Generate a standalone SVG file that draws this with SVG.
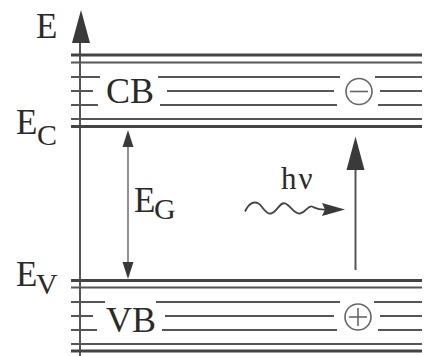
<svg xmlns="http://www.w3.org/2000/svg" width="424" height="356" viewBox="0 0 424 356">
<style>
.t{font-family:"Liberation Serif","Times New Roman",serif;fill:#2a2a2a;font-size:35px}
.s{font-size:30px}
.b{font-size:36px}
.edge{stroke:#444;stroke-width:2.8;fill:none}
.lvl{stroke:#555;stroke-width:2;fill:none}
.ax{stroke:#555;stroke-width:2;fill:none}
.thin{stroke:#555;stroke-width:1.3;fill:none}
.wave{stroke:#444;stroke-width:1.8;fill:none}
.head{fill:#3a3a3a}
.car{stroke:#666;stroke-width:1.6;fill:none}
</style>
<rect width="424" height="356" fill="#fff"/>
<g id="axis">
<line class="ax" x1="80" y1="40" x2="80" y2="356"/>
<polygon class="head" points="81,10 90,43 72,43"/>
<text class="t" x="36" y="38">E</text>
</g>
<g id="conduction-band">
<line class="edge" x1="71" y1="55" x2="422" y2="55"/>
<line class="lvl" x1="71" y1="62.5" x2="422" y2="62.5"/>
<path class="lvl" d="M71,77H100M158,77H340M375,77H422"/>
<path class="lvl" d="M71,91H93M167,91H334M380,91H422"/>
<path class="lvl" d="M71,105H98M160,105H337M378,105H422"/>
<line class="lvl" x1="71" y1="119" x2="422" y2="119"/>
<line class="edge" x1="71" y1="126.5" x2="422" y2="126.5"/>
<text class="t b" x="106" y="102.5">CB</text>
<g id="electron">
<circle class="car" cx="359" cy="91.5" r="13"/>
<line class="car" x1="350" y1="91.5" x2="368" y2="91.5"/>
</g>
</g>
<g id="valence-band">
<line class="edge" x1="71" y1="280.5" x2="422" y2="280.5"/>
<line class="lvl" x1="71" y1="287.5" x2="422" y2="287.5"/>
<path class="lvl" d="M71,302H105M156,302H340M374,302H422"/>
<path class="lvl" d="M71,316H93M165,316H334M380,316H422"/>
<path class="lvl" d="M71,330H97M162,330H337M378,330H422"/>
<line class="lvl" x1="71" y1="344" x2="422" y2="344"/>
<line class="edge" x1="71" y1="351" x2="422" y2="351"/>
<text class="t b" x="106" y="331.5">VB</text>
<g id="hole">
<circle class="car" cx="358" cy="317" r="13"/>
<line class="car" x1="349" y1="317" x2="367" y2="317"/>
<line class="car" x1="358" y1="308" x2="358" y2="326"/>
</g>
</g>
<g id="labels">
<text class="t"><tspan x="16" y="133.5">E</tspan><tspan class="s" x="37" y="144.5">C</tspan></text>
<text class="t"><tspan x="16" y="286">E</tspan><tspan class="s" x="36" y="293.5">V</tspan></text>
<text class="t"><tspan x="134" y="212">E</tspan><tspan class="s" x="154" y="219">G</tspan></text>
<text class="t" x="281" y="188.5" style="font-size:31px;letter-spacing:2px">hν</text>
</g>
<g id="connectors">
<line class="thin" x1="128" y1="145" x2="128" y2="264"/>
<polygon class="head" points="128,130 133.5,147 122.5,147"/>
<polygon class="head" points="128,279 133.5,262 122.5,262"/>
<line class="ax" x1="355.5" y1="166" x2="355.5" y2="270"/>
<polygon class="head" points="355.5,136.5 364.5,170 346.5,170"/>
<path class="wave" d="M245,211.5 C249,203 254,201 258.5,203.5 S265,214.5 271,213.5 S280,201 285.5,203.5 S294,214.5 300,213.5 S308,205 312,206.5 S317,210 326,209.5"/>
<polygon class="head" points="345,209.5 322,203 325,209.5 322,216"/>
</g>
</svg>
